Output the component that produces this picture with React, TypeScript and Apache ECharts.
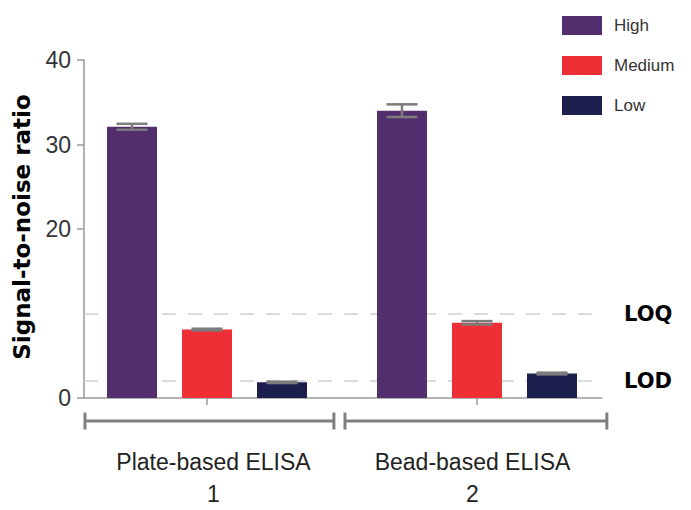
import React, { useEffect, useRef } from "react";
import * as echarts from "echarts";

const groupNames = ["Plate-based ELISA", "Bead-based ELISA"];
const groupNumbers = ["1", "2"];
const groupPositions = [1, 2];
const seriesNames = ["High", "Medium", "Low"];
const highValues = [32.1, 34.0];
const mediumValues = [8.1, 8.9];
const lowValues = [1.85, 2.9];
const highErrors = [0.35, 0.75];
const mediumErrors = [0.1, 0.2];
const lowErrors = [0.08, 0.1];
const bracketStarts = [0.548, 1.511];
const bracketEnds = [1.47, 2.481];
const thresholdNames = ["LOQ", "LOD"];
const thresholdValues = [10, 2];
const yTickValues = [0, 20, 30, 40];

const colors = ["#522E6E", "#EE3036", "#1C1E4E"];
const BAR_W = 50;
const BAR_STEP = 75;
const FONT = "'Liberation Sans', Arial, sans-serif";
const AXIS_GRAY = "#9a9a9a";
const ERR_GRAY = "#7c7c7c";

export default function App() {
  const ref = useRef<HTMLDivElement>(null);
  useEffect(() => {
    if (!ref.current) return;
    const chart = echarts.init(ref.current, undefined, { renderer: "svg" });
    const values = [highValues, mediumValues, lowValues];
    const errors = [highErrors, mediumErrors, lowErrors];

    const barSeries = seriesNames.map((name, k) => ({
      name,
      type: "bar",
      xAxisIndex: 0,
      yAxisIndex: 0,
      barWidth: BAR_W,
      barGap: "50%",
      itemStyle: { color: colors[k] },
      z: 3,
      data: groupPositions.map((x, i) => [x, values[k][i]]),
      ...(k === 0
        ? {
            markLine: {
              silent: true,
              symbol: "none",
              z: 1,
              lineStyle: { type: [14, 12], color: "#cfcfcf", width: 1.5 },
              label: {
                show: true,
                position: "end",
                distance: 22,
                formatter: (p: any) => p.name,
                fontFamily: "'DejaVu Sans', sans-serif",
                fontWeight: "bold",
                fontSize: 21,
                color: "#000",
              },
              data: thresholdNames.map((n, i) => ({
                name: n,
                yAxis: thresholdValues[i],
                label: { padding: i === 0 ? [13, 0, 0, 0] : [0, 0, 10, 0] },
              })),
            },
          }
        : {}),
    }));

    const errData: any[] = [];
    seriesNames.forEach((_, k) => {
      groupPositions.forEach((x, i) => {
        errData.push([x, values[k][i], errors[k][i], k]);
      });
    });

    const option: any = {
      animation: false,
      textStyle: { fontFamily: FONT },
      grid: { left: 84, right: 89, top: 60, bottom: 105 },
      legend: {
        orient: "vertical",
        left: 557,
        top: 11,
        itemWidth: 40,
        itemHeight: 19,
        itemGap: 21,
        icon: "rect",
        data: seriesNames,
        textStyle: { fontSize: 17, color: "#333", fontFamily: FONT, padding: [0, 0, 0, 7] },
      },
      graphic: [
        {
          type: "text",
          x: 22,
          y: 227,
          rotation: Math.PI / 2,
          style: {
            text: "Signal-to-noise ratio",
            font: "bold 23px 'DejaVu Sans', sans-serif",
            fill: "#000",
            textAlign: "center",
            textVerticalAlign: "middle",
          },
        },
      ],
      xAxis: [
        {
          type: "value",
          min: 0.5444,
          max: 2.463,
          splitLine: { show: false },
          axisLine: { show: true, lineStyle: { color: AXIS_GRAY, width: 1.5 } },
          axisTick: { show: true, customValues: groupPositions, length: 7, lineStyle: { color: AXIS_GRAY, width: 1.5 } },
          axisLabel: { show: false, customValues: groupPositions },
        },
        {
          type: "category",
          position: "bottom",
          data: groupNames.map((n, i) => n + "\n" + groupNumbers[i]),
          axisLine: { show: false },
          axisTick: { show: false },
          splitLine: { show: false },
          axisLabel: {
            margin: 48,
            fontSize: 23,
            lineHeight: 32,
            color: "#222",
            fontFamily: FONT,
          },
        },
      ],
      yAxis: {
        type: "value",
        min: 0,
        max: 40,
        splitLine: { show: false },
        axisLine: { show: true, lineStyle: { color: AXIS_GRAY, width: 1.5 } },
        axisTick: { show: true, customValues: yTickValues, length: 7, lineStyle: { color: AXIS_GRAY, width: 1.5 } },
        axisLabel: { customValues: yTickValues, fontSize: 23, color: "#333", margin: 13, fontFamily: FONT },
      },
      series: [
        ...barSeries,
        {
          type: "custom",
          name: "errors",
          xAxisIndex: 0,
          yAxisIndex: 0,
          z: 5,
          clip: false,
          silent: true,
          data: errData,
          renderItem: (params: any, api: any) => {
            const x = api.value(0);
            const y = api.value(1);
            const e = api.value(2);
            const k = api.value(3);
            const top = api.coord([x, y + e]);
            const bot = api.coord([x, y - e]);
            const cx = top[0] + (k - 1) * BAR_STEP;
            const half = 15.5;
            const style = { stroke: ERR_GRAY, lineWidth: 2.5 };
            return {
              type: "group",
              children: [
                { type: "line", shape: { x1: cx, y1: top[1], x2: cx, y2: bot[1] }, style },
                { type: "line", shape: { x1: cx - half, y1: top[1], x2: cx + half, y2: top[1] }, style },
                { type: "line", shape: { x1: cx - half, y1: bot[1], x2: cx + half, y2: bot[1] }, style },
              ],
            };
          },
        },
        {
          type: "custom",
          name: "brackets",
          xAxisIndex: 0,
          yAxisIndex: 0,
          clip: false,
          silent: true,
          data: bracketStarts.map((s, i) => [s, bracketEnds[i]]),
          renderItem: (params: any, api: any) => {
            const p1 = api.coord([api.value(0), 0]);
            const p2 = api.coord([api.value(1), 0]);
            const y = p1[1] + 23;
            const style = { stroke: "#808080", lineWidth: 3 };
            return {
              type: "group",
              children: [
                { type: "line", shape: { x1: p1[0], y1: y, x2: p2[0], y2: y }, style },
                { type: "line", shape: { x1: p1[0], y1: y - 8.5, x2: p1[0], y2: y + 8.5 }, style },
                { type: "line", shape: { x1: p2[0], y1: y - 8.5, x2: p2[0], y2: y + 8.5 }, style },
              ],
            };
          },
        },
      ],
    };
    chart.setOption(option);
    return () => chart.dispose();
  }, []);
  return (
    <div
      ref={ref}
      style={{ position: "absolute", left: 0, top: 0, width: 691, height: 510 }}
    />
  );
}
